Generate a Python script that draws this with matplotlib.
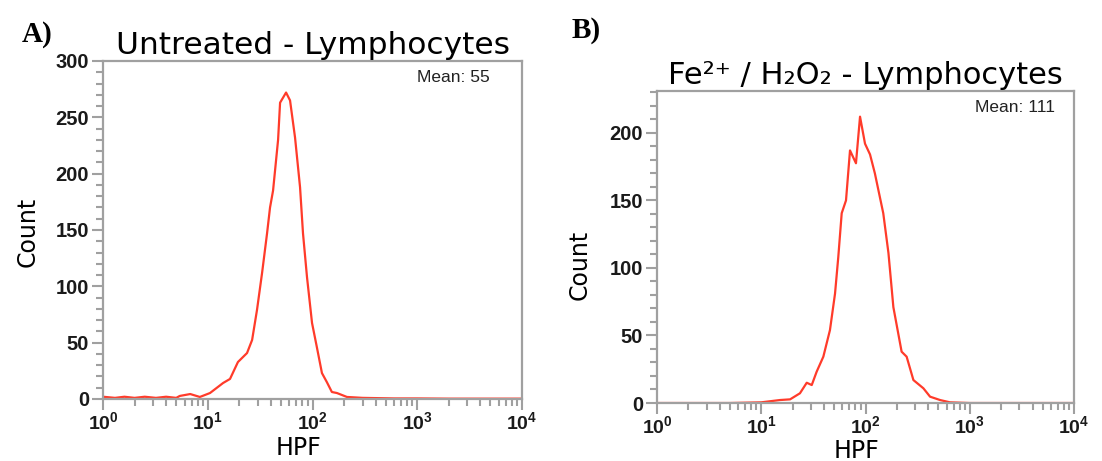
import matplotlib.pyplot as plt
import matplotlib.ticker as ticker
import numpy as np

### 데이터
# A) Untreated - Lymphocytes
hpf_a = [1.0, 1.3, 1.6, 2.0, 2.5, 3.2, 4.0, 5.0, 5.4, 6.8, 8.4, 10.5, 14.0, 16.3,
         19.4, 23.7, 26.5, 29.5, 33.0, 36.8, 39.3, 42.0, 46.9, 49.0, 55.9, 61.0,
         68.1, 76.0, 81.1, 88.6, 98.9, 110, 123, 137, 153, 171, 213, 300, 600,
         1000, 2000, 5000, 10000]
count_a = [2, 1, 2, 1, 2, 1, 2, 1, 2.7, 4.4, 1.8, 5.3, 14.2, 17.8,
           32.8, 40.8, 52.4, 79, 112, 147, 170, 185, 230, 263, 272, 265,
           232, 188, 147, 108, 67.5, 46, 23, 15, 6.2, 5.3, 1.8, 1, 0.5,
           0.5, 0.3, 0.3, 0.3]

# B) Fe2+ / H2O2 - Lymphocytes
hpf_b = [1.0, 5.0, 10.0, 15.1, 18.9, 23.5, 27.3, 30.5, 34.0, 39.4, 45.6, 51.0,
         54.8, 59.1, 65.0, 71.0, 81.0, 88.6, 98.9, 110.5, 123, 148, 166, 185,
         222, 248, 288, 359, 416, 519, 646, 1000, 10000]
count_b = [0, 0, 0.5, 2.2, 2.7, 7.2, 15, 13.3, 23.2, 34.3, 54, 81,
           108, 140.5, 150, 187, 177.5, 212, 192, 184, 170, 140.5, 111, 71,
           38, 34.3, 17, 10.9, 4.7, 2.2, 0.5, 0, 0]

mean_a = 55
mean_b = 111

line_color = '#ff3b2a'
spine_color = '#a0a0a0'

plt.rcParams['font.family'] = ['Liberation Sans', 'DejaVu Sans']
plt.rcParams['mathtext.default'] = 'regular'

fig = plt.figure(figsize=(11.02, 4.61), dpi=100)

ax_a = fig.add_axes([0.0935, 0.1345, 0.3802, 0.7332])
ax_b = fig.add_axes([0.5962, 0.1258, 0.3784, 0.6768])


def style_axes(ax, ymax):
    ax.set_xscale('log')
    ax.set_xlim(1, 10000)
    ax.set_ylim(0, ymax)

    # 축 테두리
    for sp in ax.spines.values():
        sp.set_color(spine_color)
        sp.set_linewidth(1.6)

    ax.xaxis.set_major_locator(ticker.LogLocator(base=10, numticks=10))
    ax.xaxis.set_minor_locator(ticker.LogLocator(base=10, subs=np.arange(2, 10), numticks=10))
    ax.xaxis.set_minor_formatter(ticker.NullFormatter())
    ax.xaxis.set_major_formatter(ticker.FuncFormatter(
        lambda v, p: r'$10^{%d}$' % int(round(np.log10(v)))))

    ax.yaxis.set_major_locator(ticker.MultipleLocator(50))
    ax.yaxis.set_minor_locator(ticker.MultipleLocator(10))

    ax.tick_params(which='major', direction='out', length=8, width=1.5,
                   color=spine_color, labelsize=14.5, labelcolor='#1a1a1a', pad=2)
    ax.tick_params(which='minor', direction='out', length=5, width=1.5,
                   color=spine_color)
    ax.tick_params(axis='x', which='major', pad=0.5, labelsize=14)
    ax.tick_params(axis='x', which='both', top=False)
    ax.tick_params(axis='y', which='both', right=False)
    for lab in ax.get_xticklabels() + ax.get_yticklabels():
        lab.set_fontweight('bold')


# 패널 A
ax_a.plot(hpf_a, count_a, color=line_color, lw=1.6)
style_axes(ax_a, 300)
ax_a.text(0.5, 1.021, 'Untreated - Lymphocytes', transform=ax_a.transAxes,
          ha='center', va='baseline', fontsize=22.5, family='DejaVu Sans')
ax_a.text(0.924, 0.938, 'Mean: %d' % mean_a, transform=ax_a.transAxes,
          ha='right', va='baseline', fontsize=12.5, color='#222222')

# 패널 B
ax_b.plot(hpf_b, count_b, color=line_color, lw=1.6)
style_axes(ax_b, 231)
ax_b.text(0.5, 1.022, 'Fe²⁺ / H₂O₂ - Lymphocytes', transform=ax_b.transAxes,
          ha='center', va='baseline', fontsize=22, family='DejaVu Sans')
ax_b.text(0.954, 0.933, 'Mean: %d' % mean_b, transform=ax_b.transAxes,
          ha='right', va='baseline', fontsize=12.5, color='#222222')

# 축 이름
fig.text(28 / 1102, 1 - 232 / 461, 'Count', rotation=90, ha='center', va='center',
         fontsize=17, family='DejaVu Sans')
fig.text(298 / 1102, 1 - 448 / 461, 'HPF', ha='center', va='center',
         fontsize=17, family='DejaVu Sans')
fig.text(580 / 1102, 1 - 265 / 461, 'Count', rotation=90, ha='center', va='center',
         fontsize=17, family='DejaVu Sans')
fig.text(857 / 1102, 1 - 451 / 461, 'HPF', ha='center', va='center',
         fontsize=17, family='DejaVu Sans')

# 패널 라벨
fig.text(22 / 1102, 1 - 34 / 461, 'A)', ha='left', va='center', fontsize=21,
         fontweight='bold', family='Liberation Serif')
fig.text(572 / 1102, 1 - 30 / 461, 'B)', ha='left', va='center', fontsize=21,
         fontweight='bold', family='Liberation Serif')

fig.savefig('out.png', dpi=100)
